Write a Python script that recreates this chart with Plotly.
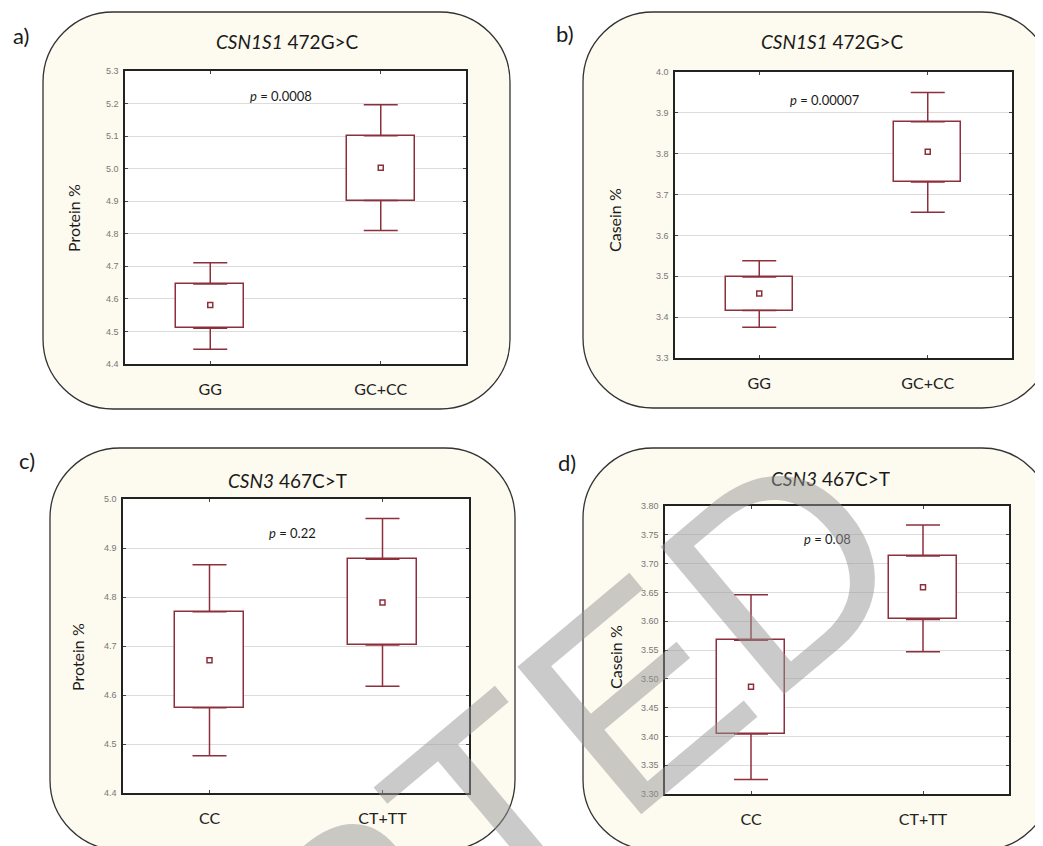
import plotly.graph_objects as go

# page body has an 8px margin, so the figure is drawn 8px in from the top-left
OFF = 8
W, H = 1043 - OFF, 846 - OFF

# ---------------- data ----------------
geno_csn1s1 = ["GG", "GC+CC"]
geno_csn3 = ["CC", "CT+TT"]

protein_csn1s1_mean = [4.581, 5.003]
protein_csn1s1_box_low = [4.510, 4.902]
protein_csn1s1_box_high = [4.646, 5.101]
protein_csn1s1_whisker_low = [4.445, 4.810]
protein_csn1s1_whisker_high = [4.711, 5.196]

casein_csn1s1_mean = [3.458, 3.805]
casein_csn1s1_box_low = [3.416, 3.731]
casein_csn1s1_box_high = [3.498, 3.878]
casein_csn1s1_whisker_low = [3.375, 3.657]
casein_csn1s1_whisker_high = [3.538, 3.950]

protein_csn3_mean = [4.671, 4.789]
protein_csn3_box_low = [4.574, 4.702]
protein_csn3_box_high = [4.770, 4.877]
protein_csn3_whisker_low = [4.476, 4.618]
protein_csn3_whisker_high = [4.866, 4.960]

casein_csn3_mean = [3.486, 3.659]
casein_csn3_box_low = [3.404, 3.603]
casein_csn3_box_high = [3.567, 3.713]
casein_csn3_whisker_low = [3.325, 3.547]
casein_csn3_whisker_high = [3.646, 3.767]

p_values = ["0.0008", "0.00007", "0.22", "0.08"]
panel_letters = ["a)", "b)", "c)", "d)"]
gene_names = ["CSN1S1", "CSN1S1", "CSN3", "CSN3"]
snp_names = ["472G>C", "472G>C", "467C>T", "467C>T"]
y_titles = ["Protein %", "Casein %", "Protein %", "Casein %"]
y_ranges = [[4.4, 5.3], [3.3, 4.0], [4.4, 5.0], [3.3, 3.8]]
y_dticks = [0.1, 0.1, 0.1, 0.05]
y_formats = [".1f", ".1f", ".1f", ".2f"]

panels = [
    (geno_csn1s1, protein_csn1s1_mean, protein_csn1s1_box_low, protein_csn1s1_box_high,
     protein_csn1s1_whisker_low, protein_csn1s1_whisker_high),
    (geno_csn1s1, casein_csn1s1_mean, casein_csn1s1_box_low, casein_csn1s1_box_high,
     casein_csn1s1_whisker_low, casein_csn1s1_whisker_high),
    (geno_csn3, protein_csn3_mean, protein_csn3_box_low, protein_csn3_box_high,
     protein_csn3_whisker_low, protein_csn3_whisker_high),
    (geno_csn3, casein_csn3_mean, casein_csn3_box_low, casein_csn3_box_high,
     casein_csn3_whisker_low, casein_csn3_whisker_high),
]

# ---------------- layout geometry (screen pixels of the reference) ----------------
plot_px = [(125, 71, 466, 364), (675, 72, 1012, 358), (123, 499, 469, 793), (665, 506, 1009, 794)]
frame_px = [(43, 12, 510, 409), (583, 12, 1052, 408), (50, 448, 515, 850), (583, 448, 1052, 850)]
title_px = [(287, 42), (832, 42), (287, 480), (830, 479)]
letter_px = [(21, 35), (565, 33), (27, 461), (567, 462)]
ytitle_px = [(73, 218), (615, 220), (77, 657), (615, 657)]
p_pos = [(0.415, 5.223), (0.39, 3.931), (0.477, 4.931), (0.442, 3.742)]
watermark_px = (275, 995)
watermark_angle = -40
watermark_size = 280

RED = "#8E2F3C"
FONT = "Lato, Open Sans, sans-serif"


def px2paper(x, y):
    return (x - OFF) / W, 1 - (y - OFF) / H


def rounded_path(x0, y0, x1, y1, r):
    k = 0.5523 * r

    def P(x, y):
        a, b = px2paper(x, y)
        return f"{a:.5f},{b:.5f}"
    pts = [f"M {P(x0 + r, y0)}",
           f"L {P(x1 - r, y0)}",
           f"C {P(x1 - r + k, y0)} {P(x1, y0 + r - k)} {P(x1, y0 + r)}",
           f"L {P(x1, y1 - r)}",
           f"C {P(x1, y1 - r + k)} {P(x1 - r + k, y1)} {P(x1 - r, y1)}",
           f"L {P(x0 + r, y1)}",
           f"C {P(x0 + r - k, y1)} {P(x0, y1 - r + k)} {P(x0, y1 - r)}",
           f"L {P(x0, y0 + r)}",
           f"C {P(x0, y0 + r - k)} {P(x0 + r - k, y0)} {P(x0 + r, y0)} Z"]
    return " ".join(pts)


fig = go.Figure()
shapes = []
annotations = []

for i, (cats, mean, bl, bh, wl, wh) in enumerate(panels):
    sfx = "" if i == 0 else str(i + 1)
    xa, ya = "x" + sfx, "y" + sfx

    # box (mean +- SE)
    fig.add_trace(go.Bar(
        x=cats, y=[h - l for h, l in zip(bh, bl)], base=bl, width=0.4,
        marker=dict(color="white", line=dict(color=RED, width=1.5)),
        xaxis=xa, yaxis=ya, hoverinfo="skip"))
    # upper whisker
    fig.add_trace(go.Scatter(
        x=cats, y=bh, mode="markers", marker=dict(size=1, color="rgba(0,0,0,0)"),
        error_y=dict(type="data", symmetric=False,
                     array=[w - b for w, b in zip(wh, bh)], arrayminus=[0] * len(cats),
                     width=17, thickness=1.5, color=RED),
        xaxis=xa, yaxis=ya, hoverinfo="skip"))
    # lower whisker
    fig.add_trace(go.Scatter(
        x=cats, y=bl, mode="markers", marker=dict(size=1, color="rgba(0,0,0,0)"),
        error_y=dict(type="data", symmetric=False,
                     array=[0] * len(cats), arrayminus=[b - w for b, w in zip(bl, wl)],
                     width=17, thickness=1.5, color=RED),
        xaxis=xa, yaxis=ya, hoverinfo="skip"))
    # mean
    fig.add_trace(go.Scatter(
        x=cats, y=mean, mode="markers",
        marker=dict(symbol="square-open", size=5, color=RED, line=dict(width=1.5)),
        xaxis=xa, yaxis=ya))

    x0, y0, x1, y1 = plot_px[i]
    dx0, dy1 = px2paper(x0, y0)
    dx1, dy0 = px2paper(x1, y1)
    fig.update_layout(**{
        "xaxis" + sfx: dict(domain=[dx0, dx1], anchor=ya, type="category", range=[-0.5, 1.5],
                            showline=True, linecolor="#222", linewidth=1.5, mirror="ticks",
                            ticks="inside", ticklen=3, tickcolor="#444", showgrid=False,
                            tickfont=dict(family=FONT, size=16, color="#222"),
                            ticklabelstandoff=10),
        "yaxis" + sfx: dict(domain=[dy0, dy1], anchor=xa, range=y_ranges[i],
                            tick0=y_ranges[i][0], dtick=y_dticks[i], tickformat=y_formats[i],
                            showline=True, linecolor="#222", linewidth=1.5, mirror="ticks",
                            ticks="inside", ticklen=3, tickcolor="#444",
                            showgrid=True, gridcolor="#dcdcdc", gridwidth=1, zeroline=False,
                            tickfont=dict(family="Liberation Sans Narrow, Liberation Sans", size=9, color="#777"),
                            ticklabelstandoff=3),
    })

    # cream rounded frame
    shapes.append(dict(type="path", xref="paper", yref="paper", layer="below",
                       path=rounded_path(*frame_px[i], 70),
                       fillcolor="#FDFAEF", line=dict(color="#333", width=1.3)))
    # white plot area
    shapes.append(dict(type="rect", xref=xa + " domain", yref=ya + " domain", layer="below",
                       x0=0, x1=1, y0=0, y1=1, fillcolor="white", line=dict(width=0)))

    common = dict(xref="paper", yref="paper", showarrow=False, xanchor="center", yanchor="middle")
    tx, ty = px2paper(*title_px[i])
    annotations.append(dict(common, x=tx, y=ty,
                            text=f"<i>{gene_names[i]}</i> {snp_names[i]}",
                            font=dict(family=FONT, size=19, color="#1a1a1a")))
    lx, ly = px2paper(*letter_px[i])
    annotations.append(dict(common, x=lx, y=ly,
                            text=panel_letters[i], font=dict(family=FONT, size=22, color="#1a1a1a")))
    yx, yy = px2paper(*ytitle_px[i])
    annotations.append(dict(common, x=yx, y=yy, textangle=-90,
                            text=y_titles[i], font=dict(family=FONT, size=16, color="#1a1a1a")))
    annotations.append(dict(xref=xa, yref=ya, x=p_pos[i][0], y=p_pos[i][1], showarrow=False,
                            xanchor="center", yanchor="middle",
                            text=f"<i>p</i> = {p_values[i]}",
                            font=dict(family=FONT, size=13, color="#1a1a1a")))

# watermark: anchored inside panel c axes, shifted in pixels (avoids margin push)
anchor_x, anchor_y = 0.5, 4.7
ax_px = plot_px[2][0] + (anchor_x + 0.5) / 2 * (plot_px[2][2] - plot_px[2][0])
ay_px = plot_px[2][3] - (anchor_y - y_ranges[2][0]) / (y_ranges[2][1] - y_ranges[2][0]) * (plot_px[2][3] - plot_px[2][1])
annotations.append(dict(xref="x3", yref="y3", x=anchor_x, y=anchor_y, showarrow=False,
                        xanchor="center", yanchor="middle",
                        xshift=watermark_px[0] - ax_px, yshift=-(watermark_px[1] - ay_px),
                        textangle=watermark_angle, text="ACCEPTED",
                        font=dict(family="Liberation Sans, Arial", size=watermark_size,
                                  color="rgba(150,150,150,0.5)")))

fig.update_layout(width=W, height=H, margin=dict(l=0, r=0, t=0, b=0, autoexpand=False),
                  paper_bgcolor="white", plot_bgcolor="white", showlegend=False,
                  shapes=shapes, annotations=annotations, bargap=0)

fig.write_html("out.html")
